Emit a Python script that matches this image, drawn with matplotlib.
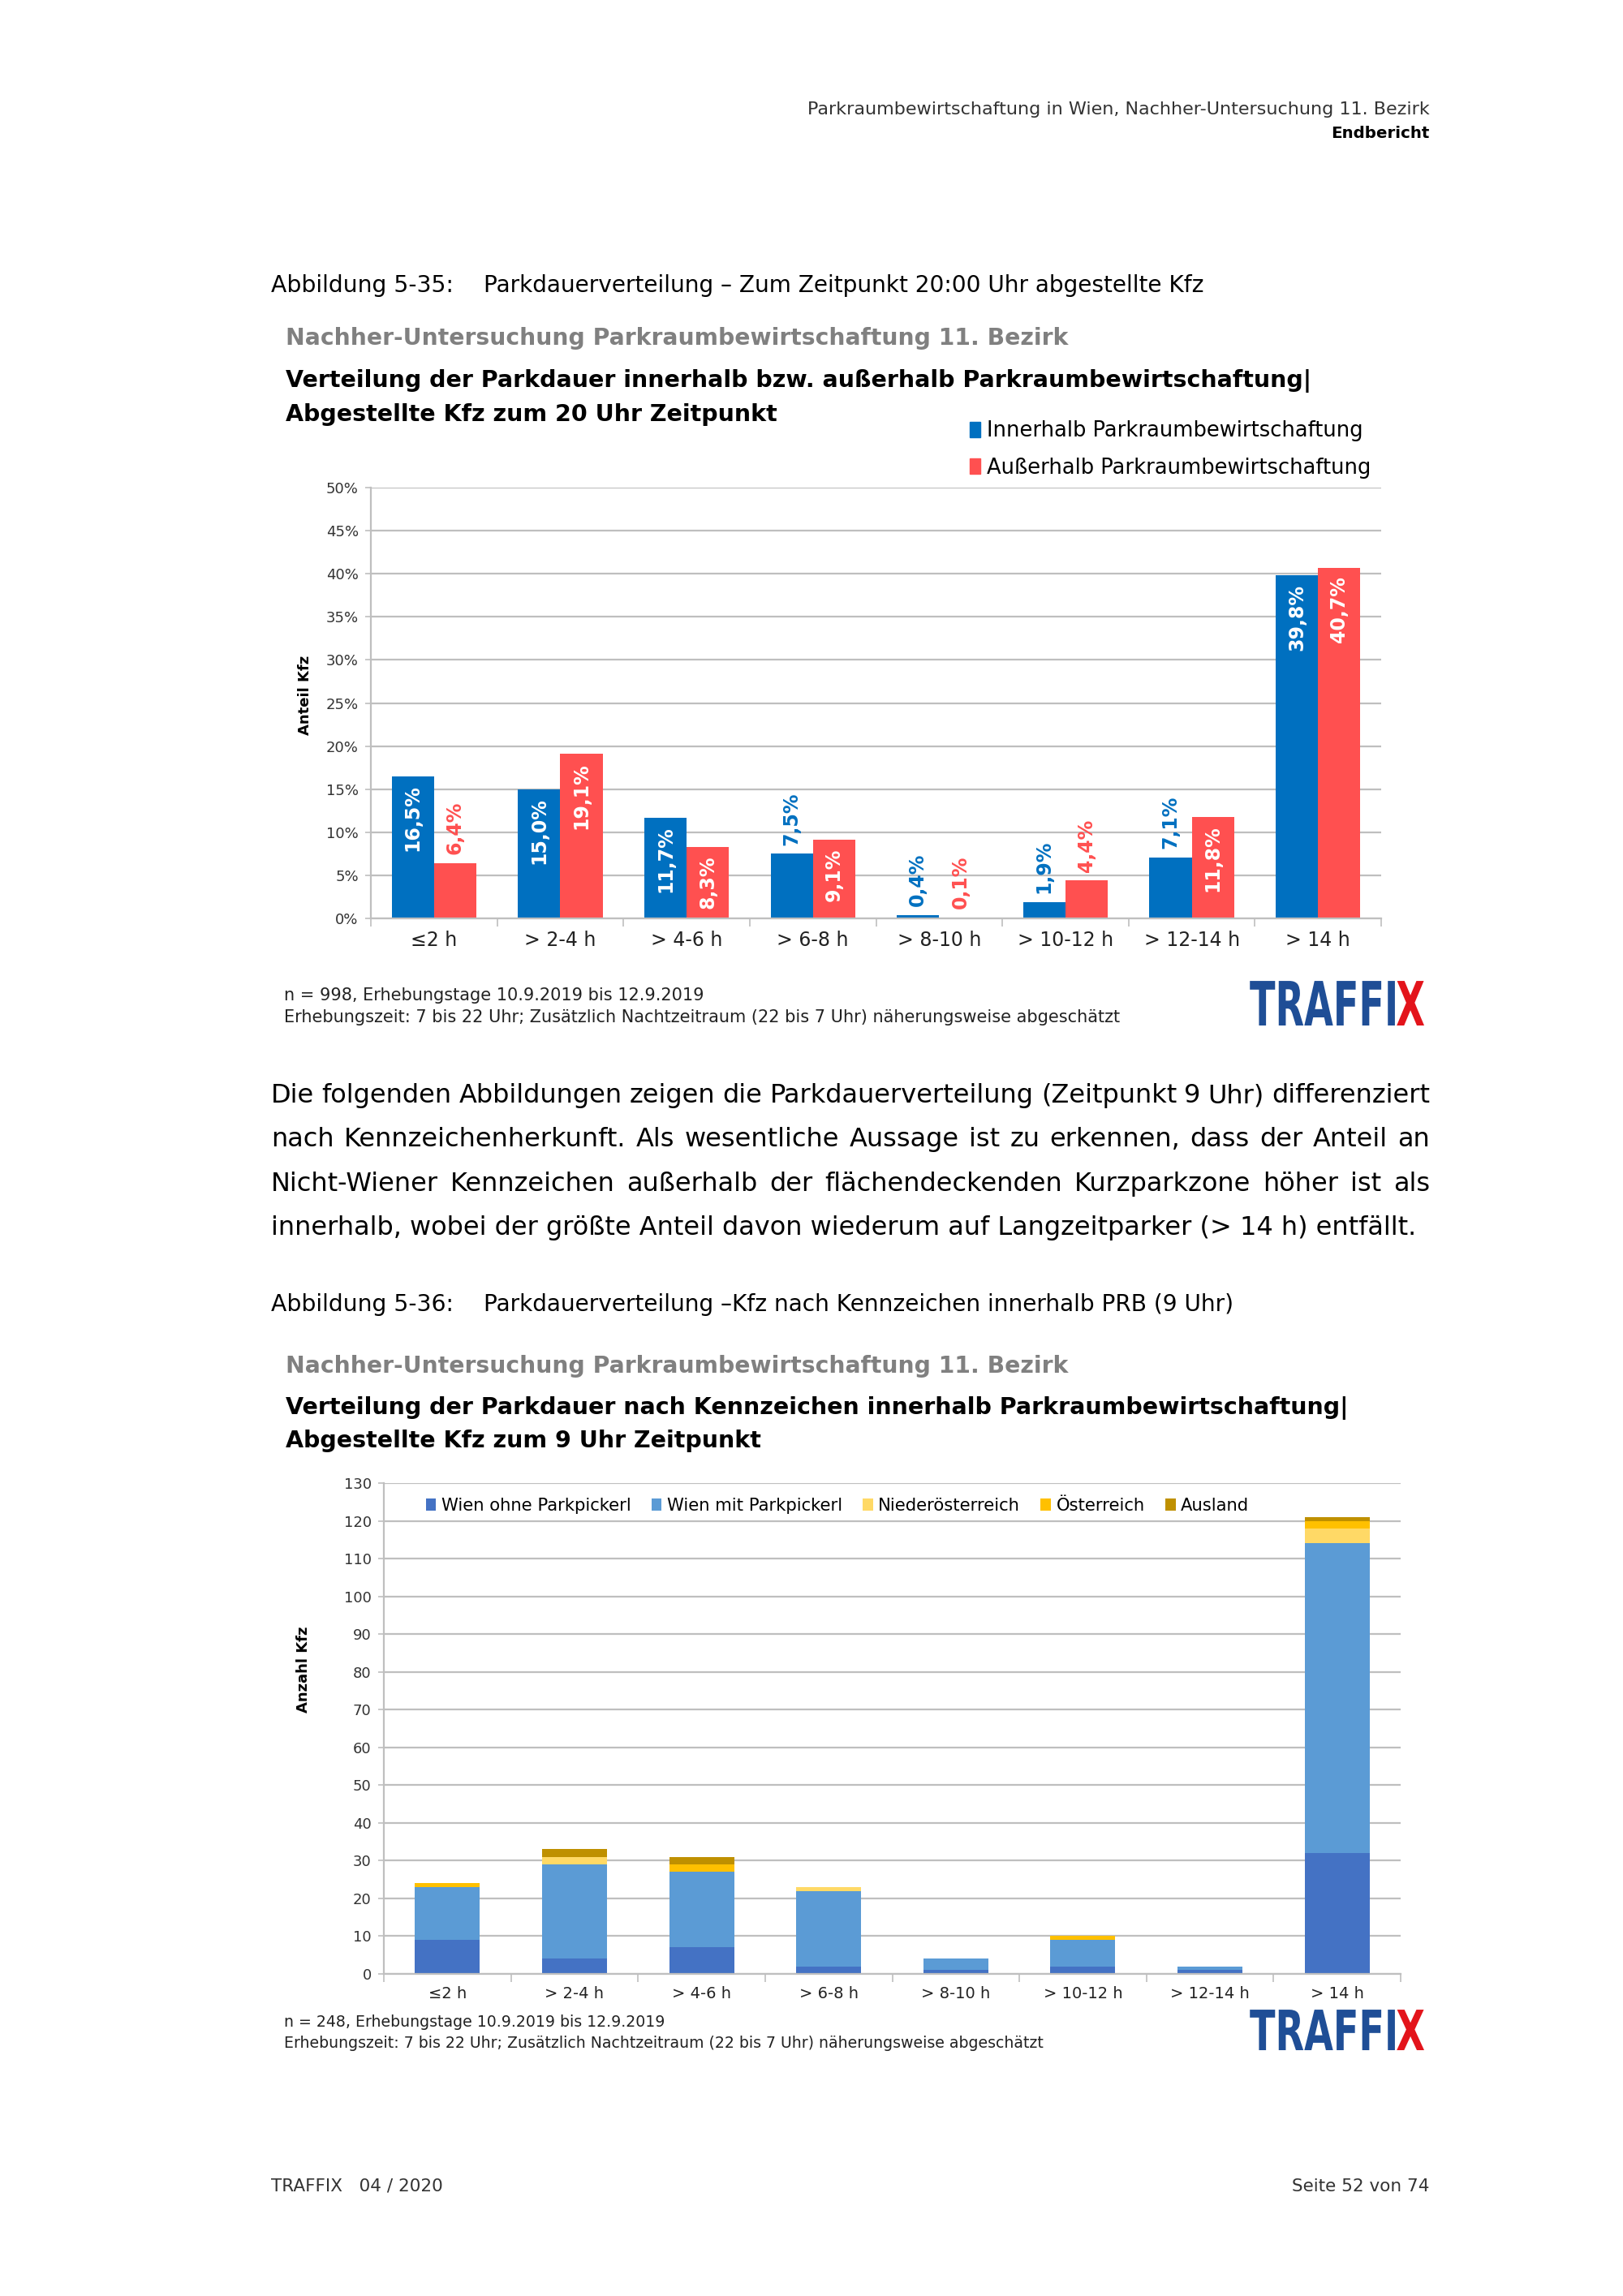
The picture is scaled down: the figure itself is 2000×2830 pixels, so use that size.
import numpy as np
import matplotlib
matplotlib.use('Agg')
import matplotlib.pyplot as plt
from matplotlib.patches import Patch, PathPatch
from matplotlib.textpath import TextPath
from matplotlib.font_manager import FontProperties
from matplotlib.transforms import Affine2D

plt.rcParams['font.family'] = ['DejaVu Sans']

# Chart 1: share of parked cars at 20:00 (percent)
CATEGORIES = ['≤2 h', '> 2-4 h', '> 4-6 h', '> 6-8 h', '> 8-10 h', '> 10-12 h', '> 12-14 h', '> 14 h']
INNERHALB = [16.5, 15.0, 11.7, 7.5, 0.4, 1.9, 7.1, 39.8]
AUSSERHALB = [6.4, 19.1, 8.3, 9.1, 0.1, 4.4, 11.8, 40.7]

# Chart 2: number of cars by licence plate origin at 9:00
WIEN_OHNE = [9, 4, 7, 2, 1, 2, 1, 32]
WIEN_MIT = [14, 25, 20, 20, 3, 7, 1, 82]
NOE = [0, 2, 0, 1, 0, 0, 0, 4]
OESTERREICH = [1, 0, 2, 0, 0, 1, 0, 2]
AUSLAND = [0, 2, 2, 0, 0, 0, 0, 1]

BODY_LINES = [
    "Die folgenden Abbildungen zeigen die Parkdauerverteilung (Zeitpunkt 9 Uhr) differenziert",
    "nach Kennzeichenherkunft. Als wesentliche Aussage ist zu erkennen, dass der Anteil an",
    "Nicht-Wiener Kennzeichen außerhalb der flächendeckenden Kurzparkzone höher ist als",
    "innerhalb, wobei der größte Anteil davon wiederum auf Langzeitparker (> 14 h) entfällt.",
]

W, H = 2000, 2830
BLUE = '#0070C0'
RED = '#FF5050'
GRID = '#BFBFBF'
LOGO_BLUE = '#1F4E96'
LOGO_RED = '#E3141B'

fig = plt.figure(figsize=(W / 100, H / 100), dpi=100)
fig.patch.set_facecolor('white')


def fx(x):
    return x / W


def fy(y):
    return 1 - y / H


def justify(text, y, x0, x1, **kw):
    """Spread the words of one line between x0 and x1 (pixels)."""
    words = text.split()
    r = fig.canvas.get_renderer()
    arts = [fig.text(0, fy(y), w, va='baseline', **kw) for w in words]
    widths = [a.get_window_extent(r).width for a in arts]
    gap = (x1 - x0 - sum(widths)) / (len(words) - 1)
    x = x0
    for a, w in zip(arts, widths):
        a.set_x(fx(x))
        x += w + gap


def logo(x0, y0, x1, y1):
    """TRAFFIX logo squeezed into a pixel box."""
    ax = fig.add_axes([fx(x0), fy(y1), fx(x1 - x0), (y1 - y0) / H])
    ax.axis('off')
    prop = FontProperties(family='DejaVu Sans', weight='bold')
    p1 = TextPath((0, 0), 'TRAFFI', size=1, prop=prop)
    w1 = p1.get_extents().x1
    p2 = TextPath((0, 0), 'X', size=1, prop=prop)
    p2 = p2.transformed(Affine2D().translate(w1 + 0.03, 0))
    ax.add_patch(PathPatch(p1, color=LOGO_BLUE, lw=0))
    ax.add_patch(PathPatch(p2, color=LOGO_RED, lw=0))
    ax.set_xlim(0, p2.get_extents().x1)
    ax.set_ylim(0, 0.73)


def style_axes(ax, ymax, step, ylabel, label_y, xsize):
    ax.set_ylim(0, ymax)
    ax.set_yticks(np.arange(0, ymax + 0.1, step))
    ax.set_xlim(-0.5, len(CATEGORIES) - 0.5)
    ax.set_xticks(range(len(CATEGORIES)))
    ax.set_xticklabels(CATEGORIES)
    ax.set_xticks(np.arange(-0.5, len(CATEGORIES)), minor=True)
    ax.tick_params(axis='x', which='major', length=0, pad=11, labelsize=xsize, colors='#222222')
    ax.tick_params(axis='x', which='minor', length=7, width=1.2, color=GRID)
    ax.tick_params(axis='y', length=5, width=1.2, color=GRID, labelsize=13, pad=6, labelcolor='#333333')
    ax.grid(axis='y', color=GRID, linewidth=1.6)
    ax.set_axisbelow(True)
    for s in ['top', 'right']:
        ax.spines[s].set_visible(False)
    for s in ['left', 'bottom']:
        ax.spines[s].set_color(GRID)
        ax.spines[s].set_linewidth(1.6)
    ax.set_ylabel(ylabel, fontsize=13, fontweight='bold')
    ax.yaxis.set_label_coords(label_y[0], label_y[1])


# Page header
fig.text(fx(1762), fy(135), 'Parkraumbewirtschaftung in Wien, Nachher-Untersuchung 11. Bezirk',
         ha='right', va='center', fontsize=16, color='#333333')
fig.text(fx(1762), fy(164), 'Endbericht', ha='right', va='center', fontsize=14.3, fontweight='bold')

# Figure 5-35
fig.text(fx(334), fy(352), 'Abbildung 5-35:', va='center', fontsize=20.3)
fig.text(fx(596), fy(352), 'Parkdauerverteilung – Zum Zeitpunkt 20:00 Uhr abgestellte Kfz',
         va='center', fontsize=20.2)
fig.text(fx(352), fy(417), 'Nachher-Untersuchung Parkraumbewirtschaftung 11. Bezirk',
         va='center', fontsize=20.3, fontweight='bold', color='#808080')
fig.text(fx(352), fy(469), 'Verteilung der Parkdauer innerhalb bzw. außerhalb Parkraumbewirtschaftung|',
         va='center', fontsize=20.5, fontweight='bold')
fig.text(fx(352), fy(511), 'Abgestellte Kfz zum 20 Uhr Zeitpunkt',
         va='center', fontsize=20.5, fontweight='bold')

ax1 = fig.add_axes([fx(457), fy(1132), fx(1702 - 457), (1132 - 601) / H])
x = np.arange(len(CATEGORIES))
bw = 0.335
ax1.bar(x - bw / 2, INNERHALB, bw, color=BLUE)
ax1.bar(x + bw / 2, AUSSERHALB, bw, color=RED)
style_axes(ax1, 50, 5, 'Anteil Kfz', (-0.058, 0.518), 17)
ax1.set_yticklabels([f'{int(v)}%' for v in np.arange(0, 51, 5)])

for xs, vals, col in [(x - bw / 2, INNERHALB, BLUE), (x + bw / 2, AUSSERHALB, RED)]:
    for xi, v in zip(xs, vals):
        label = f'{v:.1f}%'.replace('.', ',')
        if v >= 8:
            ax1.text(xi, v - 1.0, label, rotation=90, ha='center', va='top',
                     fontsize=17, fontweight='bold', color='white')
        else:
            ax1.text(xi, v + 1.0, label, rotation=90, ha='center', va='bottom',
                     fontsize=17, fontweight='bold', color=col)

fig.legend(handles=[Patch(color=BLUE), Patch(color=RED)],
           labels=['Innerhalb Parkraumbewirtschaftung', 'Außerhalb Parkraumbewirtschaftung'],
           loc='upper left', bbox_to_anchor=(fx(1185), fy(508)), frameon=False,
           fontsize=18.5, handlelength=0.5, handleheight=0.8, handletextpad=0.3,
           labelspacing=0.75, borderaxespad=0)

fig.text(fx(350), fy(1227), 'n = 998, Erhebungstage 10.9.2019 bis 12.9.2019',
         va='center', fontsize=15, color='#222222')
fig.text(fx(350), fy(1254),
         'Erhebungszeit: 7 bis 22 Uhr; Zusätzlich Nachtzeitraum (22 bis 7 Uhr) näherungsweise abgeschätzt',
         va='center', fontsize=15, color='#222222')
logo(1540, 1209, 1755, 1264)

# Body text
for i, line in enumerate(BODY_LINES):
    y = 1359 + i * 54.3
    if i < len(BODY_LINES) - 1:
        justify(line, y, 334, 1762, fontsize=23)
    else:
        fig.text(fx(334), fy(y), line, va='baseline', fontsize=23)

# Figure 5-36
fig.text(fx(334), fy(1608), 'Abbildung 5-36:', va='center', fontsize=20.3)
fig.text(fx(596), fy(1608), 'Parkdauerverteilung –Kfz nach Kennzeichen innerhalb PRB (9 Uhr)',
         va='center', fontsize=20.2)
fig.text(fx(352), fy(1684), 'Nachher-Untersuchung Parkraumbewirtschaftung 11. Bezirk',
         va='center', fontsize=20.3, fontweight='bold', color='#808080')
fig.text(fx(352), fy(1736), 'Verteilung der Parkdauer nach Kennzeichen innerhalb Parkraumbewirtschaftung|',
         va='center', fontsize=20.5, fontweight='bold')
fig.text(fx(352), fy(1776), 'Abgestellte Kfz zum 9 Uhr Zeitpunkt',
         va='center', fontsize=20.5, fontweight='bold')

ax2 = fig.add_axes([fx(473), fy(2433), fx(1726 - 473), (2433 - 1828) / H])
series = [('Wien ohne Parkpickerl', WIEN_OHNE, '#4472C4'),
          ('Wien mit Parkpickerl', WIEN_MIT, '#5B9BD5'),
          ('Niederösterreich', NOE, '#FFD966'),
          ('Österreich', OESTERREICH, '#FFC000'),
          ('Ausland', AUSLAND, '#BF9000')]
bottom = np.zeros(len(CATEGORIES))
for name, vals, col in series:
    ax2.bar(x, vals, 0.51, bottom=bottom, color=col, label=name)
    bottom += np.array(vals)
style_axes(ax2, 130, 10, 'Anzahl Kfz', (-0.072, 0.62), 14)
ax2.legend(loc='center', bbox_to_anchor=(0.446, 0.954), ncol=5, frameon=False,
           fontsize=15.2, handlelength=0.6, handleheight=0.7, handletextpad=0.3,
           columnspacing=1.2, borderaxespad=0)

fig.text(fx(350), fy(2493), 'n = 248, Erhebungstage 10.9.2019 bis 12.9.2019',
         va='center', fontsize=13.6, color='#222222')
fig.text(fx(350), fy(2518),
         'Erhebungszeit: 7 bis 22 Uhr; Zusätzlich Nachtzeitraum (22 bis 7 Uhr) näherungsweise abgeschätzt',
         va='center', fontsize=13.6, color='#222222')
logo(1540, 2477, 1755, 2527)

# Page footer
fig.text(fx(334), fy(2695), 'TRAFFIX   04 / 2020', va='center', fontsize=15.5, color='#333333')
fig.text(fx(1762), fy(2695), 'Seite 52 von 74', ha='right', va='center', fontsize=15.5, color='#333333')

fig.savefig('out.png', dpi=100, facecolor='white')
